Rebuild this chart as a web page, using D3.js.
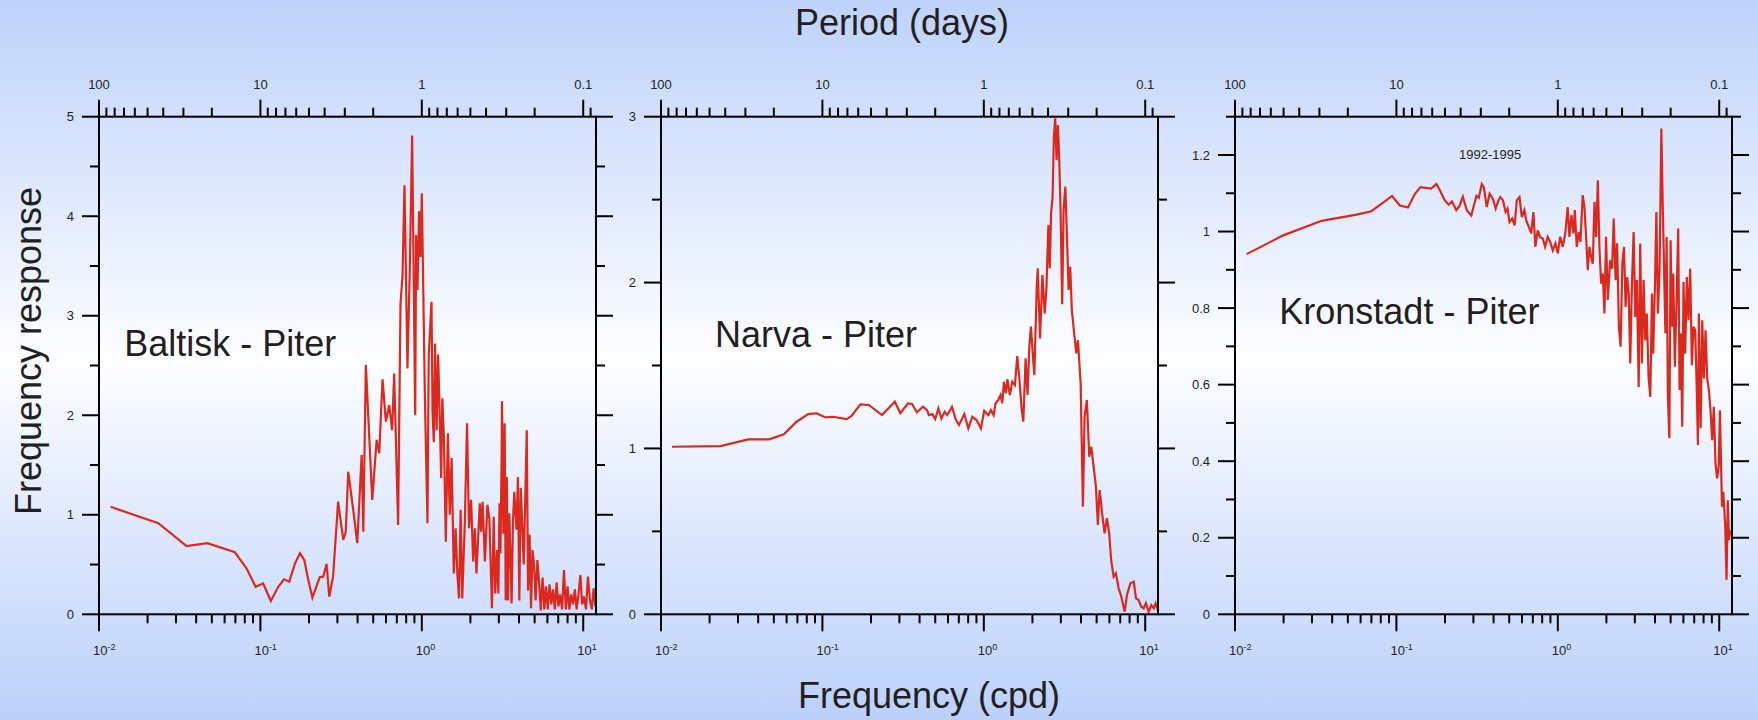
<!DOCTYPE html>
<html><head><meta charset="utf-8">
<script src="https://cdn.jsdelivr.net/npm/d3@7"></script>
<style>body{margin:0;background:#fff;} svg{display:block;}</style>
</head><body><svg id="c" width="1758" height="720"></svg>
<script>
// ---------- DATA ----------
const baltiskFreq = [0.0118,0.0233,0.0349,0.0469,0.0695,0.082,0.0934,0.104,0.116,0.129,0.140,0.151,0.164,0.176,0.187,0.198,0.210,0.233,0.245,0.257,0.267,0.282,0.303,0.326,0.338,0.350,0.376,0.398,0.424,0.434,0.450,0.493,0.525,0.545,0.571,0.599,0.628,0.655,0.674,0.713,0.738,0.759,0.781,0.815,0.843,0.871,0.91,0.922,0.94,0.962,0.98,1.0,1.044,1.084,1.104,1.148,1.165,1.186,1.208,1.235,1.262,1.29,1.318,1.34,1.37,1.408,1.45,1.49,1.53,1.578,1.62,1.66,1.70,1.74,1.78,1.845,1.906,1.96,2.02,2.08,2.13,2.18,2.286,2.33,2.38,2.46,2.55,2.62,2.72,2.79,2.85,2.93,2.98,3.03,3.07,3.12,3.14,3.20,3.26,3.31,3.36,3.42,3.48,3.54,3.60,3.67,3.74,3.86,3.94,4.02,4.10,4.19,4.28,4.38,4.47,4.55,4.65,4.75,4.85,4.96,5.07,5.2,5.33,5.46,5.6,5.74,5.88,6.03,6.18,6.34,6.5,6.67,6.84,7.02,7.2,7.4,7.6,7.8,8.0,8.2,8.42,8.65,8.88,9.1,9.35,9.6,9.85,10.1,10.4,10.7,11.0,11.3,11.6,11.9];
const baltiskResp = [1.08,0.915,0.686,0.714,0.623,0.462,0.277,0.31,0.134,0.277,0.352,0.328,0.513,0.613,0.546,0.345,0.167,0.372,0.378,0.506,0.177,0.378,1.132,0.747,0.83,1.433,1.048,0.714,1.6,0.83,2.506,1.149,1.752,1.618,2.362,1.936,2.103,1.85,2.42,0.897,3.126,3.39,4.31,2.47,3.49,4.81,2.0,3.81,3.26,4.05,3.59,4.23,2.22,0.915,2.61,3.14,2.04,1.73,2.72,1.85,2.61,2.02,1.37,2.17,1.785,0.73,1.82,1.0,1.57,0.41,0.864,0.41,0.16,1.05,0.16,0.9,1.92,0.864,1.15,0.53,0.864,0.41,1.116,0.83,1.13,0.53,1.1,0.965,0.06,0.98,0.21,0.646,0.21,1.116,0.61,1.52,2.14,0.81,1.92,0.14,1.38,0.14,1.015,0.61,0.11,0.93,1.23,0.85,1.38,0.14,1.27,0.9,0.5,1.2,1.85,0.24,0.8,0.06,0.646,0.5,0.14,0.546,0.31,0.04,0.37,0.05,0.28,0.05,0.3,0.1,0.25,0.05,0.32,0.08,0.2,0.05,0.445,0.05,0.28,0.05,0.2,0.1,0.25,0.05,0.2,0.395,0.1,0.18,0.05,0.378,0.15,0.05,0.26,0.08];

const narvaFreq = [0.0117,0.0234,0.0347,0.0468,0.0577,0.0692,0.0817,0.0919,0.1045,0.1166,0.141,0.151,0.172,0.194,0.234,0.281,0.304,0.339,0.359,0.385,0.42,0.445,0.457,0.48,0.5,0.523,0.546,0.572,0.594,0.635,0.669,0.702,0.757,0.802,0.849,0.902,0.959,1.006,1.066,1.107,1.15,1.183,1.23,1.27,1.30,1.333,1.37,1.40,1.45,1.50,1.56,1.61,1.66,1.714,1.757,1.815,1.867,1.914,1.959,2.008,2.056,2.128,2.158,2.23,2.307,2.383,2.443,2.513,2.56,2.61,2.667,2.717,2.769,2.825,2.879,2.934,2.99,3.06,3.12,3.2,3.27,3.35,3.43,3.51,3.63,3.74,3.83,3.98,4.11,4.21,4.35,4.50,4.63,4.79,4.95,5.09,5.22,5.44,5.6,5.79,5.98,6.15,6.37,6.58,6.84,7.11,7.46,7.71,8.09,8.49,8.77,9.1,9.45,9.77,10.1,10.5,10.9,11.3,11.6,11.96];
const narvaResp = [1.010,1.014,1.055,1.055,1.085,1.161,1.207,1.212,1.187,1.191,1.177,1.195,1.266,1.262,1.201,1.282,1.212,1.272,1.268,1.218,1.251,1.231,1.201,1.207,1.177,1.242,1.181,1.221,1.201,1.251,1.175,1.141,1.207,1.121,1.191,1.171,1.121,1.227,1.201,1.231,1.201,1.272,1.292,1.322,1.272,1.402,1.332,1.417,1.322,1.402,1.382,1.557,1.423,1.242,1.161,1.543,1.322,1.613,1.734,1.573,1.442,1.975,2.086,1.663,2.045,1.814,1.965,2.347,2.086,2.417,2.517,2.879,2.99,2.738,2.949,2.738,2.427,1.870,2.437,2.578,2.297,1.955,2.095,1.834,1.694,1.573,1.653,1.392,0.649,1.191,1.292,0.950,1.010,0.890,0.769,0.538,0.749,0.588,0.488,0.579,0.488,0.327,0.227,0.247,0.157,0.106,0.016,0.116,0.187,0.197,0.096,0.086,0.046,0.036,0.066,0.016,0.056,0.036,0.066,0.026];

const kronFreq = [0.0118,0.0199,0.0344,0.0566,0.070,0.0807,0.094,0.105,0.118,0.130,0.141,0.164,0.177,0.185,0.199,0.211,0.221,0.235,0.246,0.258,0.273,0.291,0.313,0.324,0.338,0.348,0.363,0.378,0.396,0.412,0.425,0.44,0.457,0.475,0.488,0.502,0.522,0.54,0.557,0.579,0.598,0.621,0.637,0.661,0.684,0.706,0.726,0.751,0.776,0.807,0.834,0.866,0.897,0.931,0.967,1.0,1.033,1.074,1.115,1.151,1.18,1.214,1.25,1.274,1.31,1.348,1.381,1.427,1.462,1.497,1.533,1.571,1.608,1.647,1.687,1.727,1.77,1.81,1.855,1.9,1.945,1.99,2.04,2.11,2.17,2.22,2.28,2.33,2.39,2.45,2.51,2.57,2.63,2.69,2.75,2.81,2.88,2.95,3.02,3.09,3.17,3.24,3.32,3.40,3.48,3.56,3.65,3.74,3.83,3.90,4.0,4.08,4.17,4.27,4.38,4.46,4.55,4.64,4.72,4.81,4.91,5.0,5.09,5.19,5.31,5.45,5.57,5.68,5.78,5.9,6.01,6.15,6.3,6.45,6.61,6.77,6.93,7.1,7.27,7.38,7.48,7.67,7.85,8.04,8.23,8.43,8.63,8.83,9.04,9.26,9.48,9.7,9.93,10.1,10.4,10.6,10.9,11.1,11.3,11.5,11.7];
const kronResp = [0.941,0.990,1.028,1.044,1.053,1.072,1.093,1.068,1.063,1.098,1.116,1.112,1.124,1.110,1.082,1.070,1.079,1.056,1.067,1.091,1.056,1.042,1.093,1.088,1.124,1.116,1.064,1.099,1.086,1.060,1.077,1.090,1.082,1.051,1.060,1.025,1.034,1.016,1.082,1.090,1.038,1.056,1.029,1.012,0.995,1.051,0.960,1.003,0.986,0.982,0.960,0.986,0.973,0.951,0.969,0.943,0.986,0.960,0.999,1.064,0.986,1.043,0.995,1.056,0.960,0.999,0.973,1.095,1.064,0.986,0.899,0.960,0.934,0.916,1.077,0.986,1.134,0.960,0.864,0.890,0.786,0.986,0.821,0.925,0.903,1.034,0.873,0.969,0.751,0.699,0.916,0.960,0.803,0.881,0.838,0.655,0.864,0.999,0.777,0.873,0.594,0.969,0.655,0.873,0.716,0.786,0.620,0.568,0.838,0.681,0.864,1.051,0.786,0.899,1.269,1.082,0.908,0.734,0.986,0.568,0.460,0.977,0.751,0.890,0.647,0.829,1.008,0.586,0.734,0.490,0.868,0.681,0.881,0.768,0.903,0.651,0.751,0.742,0.577,0.442,0.786,0.486,0.768,0.616,0.742,0.616,0.586,0.533,0.455,0.542,0.394,0.355,0.385,0.533,0.281,0.320,0.229,0.090,0.298,0.194,0.220];

const panelNames = ["Baltisk - Piter", "Narva - Piter", "Kronstadt - Piter"];
const yDomainMax = [5, 3, 1.3];
const yMajorTicks = [[0,1,2,3,4,5],[0,1,2,3],[0,0.2,0.4,0.6,0.8,1,1.2]];
const yMinorTicks = [[0.5,1.5,2.5,3.5,4.5],[0.5,1.5,2.5],[0.1,0.3,0.5,0.7,0.9,1.1,1.3]];
const yTickLabels = [["0","1","2","3","4","5"],["0","1","2","3"],["0","0.2","0.4","0.6","0.8","1","1.2"]];
const freqMajor = [0.01, 0.1, 1, 10];
const freqExponents = ["-2", "-1", "0", "1"];
const periodMajor = [100, 10, 1, 0.1];
const periodLabels = ["100", "10", "1", "0.1"];
const subtitle = "1992-1995";

// ---------- LAYOUT / STYLE ----------
const W = 1758, H = 720;
const panelLeft = [99, 661, 1235];
const panelW = 497;
const plotTop = 116.7, plotBottom = 614.3;
const FONT = "'Liberation Sans', Arial, Helvetica, sans-serif";
const TXT = "#231f20";
const RED = "#dc291e";
const MAJ = 17, MIN = 9;
const nameXY = [[124.3, 356], [715, 346.7], [1279.3, 324.3]];

const svg = d3.select("#c");
const defs = svg.append("defs");
const grad = defs.append("linearGradient").attr("id","bg").attr("x1",0).attr("y1",0).attr("x2",0).attr("y2",1);
grad.append("stop").attr("offset","0%").attr("stop-color","#bed2fb");
grad.append("stop").attr("offset","50%").attr("stop-color","#fdfeff");
grad.append("stop").attr("offset","100%").attr("stop-color","#bbd0fb");
svg.append("rect").attr("width",W).attr("height",H).attr("fill","url(#bg)");

const series = [[baltiskFreq, baltiskResp],[narvaFreq, narvaResp],[kronFreq, kronResp]];

series.forEach(([fr, rs], i) => {
  const x0 = panelLeft[i], x1 = x0 + panelW;
  const x = d3.scaleLog().domain([0.01, 12]).range([x0, x1]);
  const y = d3.scaleLinear().domain([0, yDomainMax[i]]).range([plotBottom, plotTop]);
  const g = svg.append("g");

  const pts = fr.map((f, k) => [f, rs[k]]);
  g.append("path").datum(pts)
    .attr("d", d3.line().x(d => x(d[0])).y(d => y(d[1])))
    .attr("fill","none").attr("stroke",RED).attr("stroke-width",2.2);

  const ax = g.append("g").attr("stroke","#000").attr("stroke-width",2).attr("fill","none");
  ax.append("rect").attr("x",x0).attr("y",plotTop).attr("width",panelW).attr("height",plotBottom-plotTop);

  const fMinor = [];
  freqMajor.forEach(d => { for (let k = 2; k <= 9; k++) { const v = k*d; if (v < 12) fMinor.push(v); } });
  freqMajor.forEach(v => ax.append("line").attr("x1",x(v)).attr("x2",x(v)).attr("y1",plotBottom).attr("y2",plotBottom+MAJ));
  fMinor.forEach(v => ax.append("line").attr("x1",x(v)).attr("x2",x(v)).attr("y1",plotBottom).attr("y2",plotBottom+MIN));

  const pMinor = [];
  periodMajor.forEach(p => { for (let k = 2; k <= 9; k++) { const v = k*p/10; const f = 1/v; if (f > 0.01 && f < 12) pMinor.push(v); } });
  periodMajor.forEach(p => ax.append("line").attr("x1",x(1/p)).attr("x2",x(1/p)).attr("y1",plotTop).attr("y2",plotTop-MAJ));
  pMinor.forEach(p => ax.append("line").attr("x1",x(1/p)).attr("x2",x(1/p)).attr("y1",plotTop).attr("y2",plotTop-MIN));

  yMajorTicks[i].forEach(v => {
    ax.append("line").attr("x1",x0-MAJ).attr("x2",x0).attr("y1",y(v)).attr("y2",y(v));
    ax.append("line").attr("x1",x1).attr("x2",x1+MAJ).attr("y1",y(v)).attr("y2",y(v));
  });
  yMinorTicks[i].forEach(v => {
    ax.append("line").attr("x1",x0-MIN).attr("x2",x0).attr("y1",y(v)).attr("y2",y(v));
    ax.append("line").attr("x1",x1).attr("x2",x1+MIN).attr("y1",y(v)).attr("y2",y(v));
  });

  const lab = g.append("g").attr("font-family",FONT).attr("fill",TXT);
  yMajorTicks[i].forEach((v, k) => {
    lab.append("text").attr("x",x0-25).attr("y",y(v)).attr("dy","0.36em")
      .attr("text-anchor","end").attr("font-size",13).text(yTickLabels[i][k]);
  });
  freqMajor.forEach((v, k) => {
    const t = lab.append("text").attr("x",x(v)-6).attr("y",654.5).attr("font-size",13);
    t.append("tspan").text("10");
    t.append("tspan").attr("font-size",9).attr("dy",-5).text(freqExponents[k]);
  });
  periodMajor.forEach((p, k) => {
    lab.append("text").attr("x",x(1/p)).attr("y",89.3).attr("text-anchor","middle")
      .attr("font-size",13).text(periodLabels[k]);
  });
  lab.append("text").attr("x",nameXY[i][0]).attr("y",nameXY[i][1]).attr("font-size",36).text(panelNames[i]);
  if (i === 2) {
    lab.append("text").attr("x",1459).attr("y",159).attr("font-size",13).text(subtitle);
  }
});

const tg = svg.append("g").attr("font-family",FONT).attr("fill",TXT).attr("font-size",36);
tg.append("text").attr("x",902).attr("y",35).attr("text-anchor","middle").text("Period (days)");
tg.append("text").attr("x",929).attr("y",708).attr("text-anchor","middle").text("Frequency (cpd)");
tg.append("text").attr("transform","translate(41,351) rotate(-90)").attr("text-anchor","middle").text("Frequency response");
</script>
</body></html>
